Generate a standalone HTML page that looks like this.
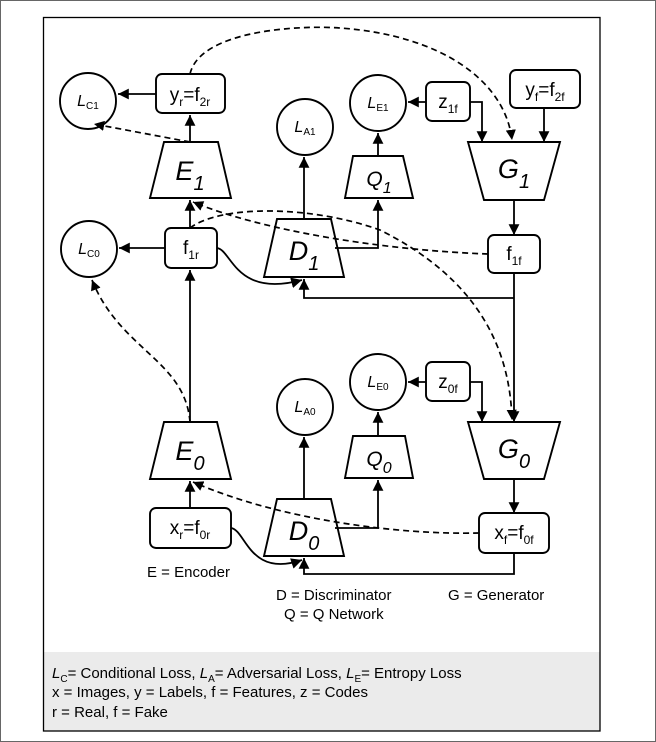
<!DOCTYPE html>
<html><head><meta charset="utf-8"><style>
body{margin:0;background:#fff}
svg{display:block;font-family:"Liberation Sans",Arial,sans-serif}
</style></head><body>
<svg width="656" height="742" viewBox="0 0 656 742" xmlns="http://www.w3.org/2000/svg">
<defs>
<marker id="a" viewBox="0 0 10 10" refX="10" refY="5" markerWidth="6" markerHeight="6" orient="auto"><path d="M0,0L10,5L0,10z" fill="#000"/></marker>
</defs>
<rect x="0.5" y="0.5" width="655" height="741" fill="#fff" stroke="#666"/>
<rect x="43" y="652" width="557" height="79" fill="#ebebeb"/>
<rect x="43.5" y="17.5" width="556.5" height="713.5" fill="none" stroke="#000" stroke-width="1.3"/>
<g fill="none" stroke="#000" stroke-width="1.9">
<circle cx="88" cy="101" r="28" fill="#fff"/>
<circle cx="89" cy="249" r="28" fill="#fff"/>
<circle cx="305" cy="127" r="28" fill="#fff"/>
<circle cx="378" cy="103" r="28" fill="#fff"/>
<circle cx="305" cy="407" r="28" fill="#fff"/>
<circle cx="378" cy="382" r="28" fill="#fff"/>
<rect x="156" y="74" width="69" height="39" rx="6" fill="#fff"/>
<rect x="426" y="82" width="44" height="39" rx="6" fill="#fff"/>
<rect x="510" y="70" width="70" height="38" rx="6" fill="#fff"/>
<rect x="165" y="228" width="52" height="40" rx="6" fill="#fff"/>
<rect x="488" y="235" width="52" height="38" rx="6" fill="#fff"/>
<rect x="426" y="362" width="44" height="39" rx="6" fill="#fff"/>
<rect x="150" y="508" width="81" height="40" rx="6" fill="#fff"/>
<rect x="479" y="513" width="70" height="40" rx="6" fill="#fff"/>
<path d="M164,142H218L231,198H150Z" fill="#fff"/>
<path d="M353,156H403L413,198H345Z" fill="#fff"/>
<path d="M468,142H560L544,200H484Z" fill="#fff"/>
<path d="M277,219H331L344,277H264Z"/>
<path d="M164,422H217L231,479H150Z"/>
<path d="M353,436H405L413,478H345Z"/>
<path d="M468,422H560L544,479H484Z"/>
<path d="M277,499H331L344,556H264Z"/>
</g>
<g fill="none" stroke="#000" stroke-width="1.8" marker-end="url(#a)">
<path d="M156,94H118"/>
<path d="M190,142V115"/>
<path d="M190,228V200"/>
<path d="M190,422V270"/>
<path d="M190,508V481"/>
<path d="M165,248H119"/>
<path d="M304,219V157"/>
<path d="M304,499V437"/>
<path d="M378,156V133"/>
<path d="M378,436V412"/>
<path d="M426,102H408"/>
<path d="M426,382H408"/>
<path d="M470,102H482V142"/>
<path d="M470,382H482V422"/>
<path d="M544,108V142"/>
<path d="M514,200V235"/>
<path d="M514,273V422"/>
<path d="M514,479V513"/>
<path d="M514,298H304V279"/>
<path d="M514,553V574H304V558"/>
<path d="M335,248H378V200"/>
<path d="M335,528H378V480"/>
<path d="M217,248C232,250 235,298 302,280"/>
<path d="M231,528C246,530 249,578 302,560"/>
</g>
<g fill="none" stroke="#000" stroke-width="1.7" stroke-dasharray="6,4" marker-end="url(#a)">
<path d="M190,74C200,30 300,25 340,28C440,35 505,80 512,140"/>
<path d="M190,142L94,124"/>
<path d="M488,254C380,250 260,230 193,202"/>
<path d="M190,228C220,205 310,205 380,230C480,280 510,350 512,420"/>
<path d="M190,422C185,360 120,350 92,280"/>
<path d="M479,533C400,535 280,520 193,482"/>
</g>
<g font-size="19" text-anchor="middle">
<text x="190" y="101">y<tspan font-size="12" dy="5">r</tspan><tspan dy="-5">=f</tspan><tspan font-size="12" dy="5">2r</tspan></text>
<text x="545" y="96">y<tspan font-size="12" dy="5">f</tspan><tspan dy="-5">=f</tspan><tspan font-size="12" dy="5">2f</tspan></text>
<text x="448" y="108">z<tspan font-size="12" dy="5">1f</tspan></text>
<text x="448" y="388">z<tspan font-size="12" dy="5">0f</tspan></text>
<text x="191" y="254">f<tspan font-size="12" dy="5">1r</tspan></text>
<text x="514" y="260">f<tspan font-size="12" dy="5">1f</tspan></text>
<text x="190" y="534">x<tspan font-size="12" dy="5">r</tspan><tspan dy="-5">=f</tspan><tspan font-size="12" dy="5">0r</tspan></text>
<text x="514" y="539">x<tspan font-size="12" dy="5">f</tspan><tspan dy="-5">=f</tspan><tspan font-size="12" dy="5">0f</tspan></text>
</g>
<g font-size="27" font-style="italic" text-anchor="middle">
<text x="190" y="180">E<tspan font-size="20" dy="10">1</tspan></text>
<text x="379" y="186" font-size="21">Q<tspan font-size="16" dy="7">1</tspan></text>
<text x="514" y="178">G<tspan font-size="20" dy="10">1</tspan></text>
<text x="304" y="260">D<tspan font-size="20" dy="10">1</tspan></text>
<text x="190" y="460">E<tspan font-size="20" dy="10">0</tspan></text>
<text x="379" y="466" font-size="21">Q<tspan font-size="16" dy="7">0</tspan></text>
<text x="514" y="458">G<tspan font-size="20" dy="10">0</tspan></text>
<text x="304" y="540">D<tspan font-size="20" dy="10">0</tspan></text>
</g>
<g font-size="16" text-anchor="middle">
<text x="88" y="106"><tspan font-style="italic">L</tspan><tspan font-size="10" dy="3">C1</tspan></text>
<text x="89" y="254"><tspan font-style="italic">L</tspan><tspan font-size="10" dy="3">C0</tspan></text>
<text x="305" y="132"><tspan font-style="italic">L</tspan><tspan font-size="10" dy="3">A1</tspan></text>
<text x="378" y="108"><tspan font-style="italic">L</tspan><tspan font-size="10" dy="3">E1</tspan></text>
<text x="305" y="412"><tspan font-style="italic">L</tspan><tspan font-size="10" dy="3">A0</tspan></text>
<text x="378" y="387"><tspan font-style="italic">L</tspan><tspan font-size="10" dy="3">E0</tspan></text>
</g>
<g font-size="15">
<text x="147" y="577">E = Encoder</text>
<text x="276" y="600">D = Discriminator</text>
<text x="284" y="619">Q = Q Network</text>
<text x="448" y="600">G = Generator</text>
<text x="52" y="678"><tspan font-style="italic">L</tspan><tspan font-size="10" dy="4">C</tspan><tspan dy="-4">= Conditional Loss, </tspan><tspan font-style="italic">L</tspan><tspan font-size="10" dy="4">A</tspan><tspan dy="-4">= Adversarial Loss, </tspan><tspan font-style="italic">L</tspan><tspan font-size="10" dy="4">E</tspan><tspan dy="-4">= Entropy Loss</tspan></text>
<text x="52" y="697">x = Images, y = Labels, f = Features, z = Codes</text>
<text x="52" y="717">r = Real, f = Fake</text>
</g>
</svg>
</body></html>
